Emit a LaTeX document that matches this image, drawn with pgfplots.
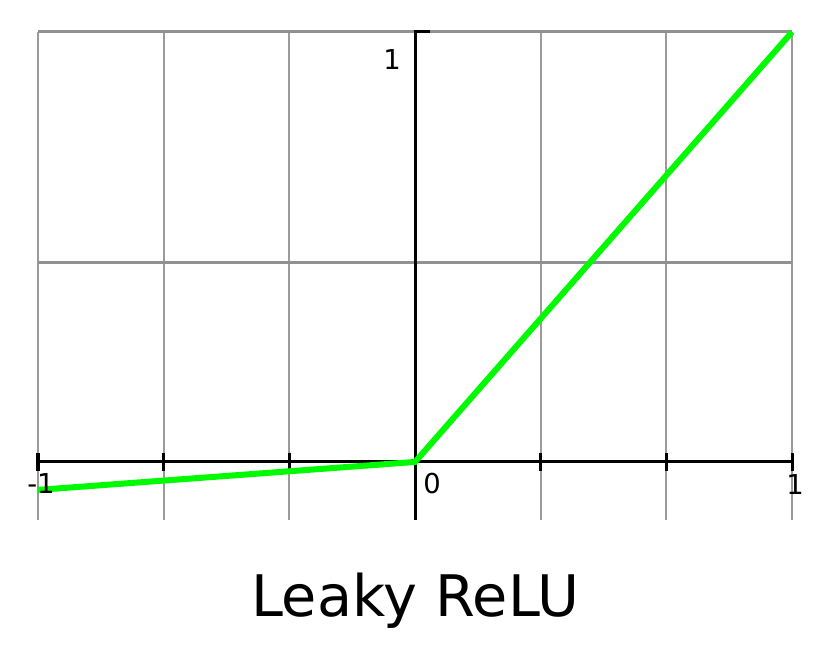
\documentclass[border=0pt]{standalone}
\usepackage{pgfplots}
\pgfplotsset{compat=1.18}
\usepackage{fontspec}
\setmainfont{DejaVu Sans}
\definecolor{lrgreen}{RGB}{0,250,0}
\definecolor{gridv}{RGB}{155,155,155}
\definecolor{gridh}{RGB}{145,145,145}
\begin{document}
\begin{tikzpicture}
\path[use as bounding box] (0,0) rectangle (831bp,658bp);
\begin{axis}[
 at={(38bp,138bp)}, anchor=south west,
 scale only axis, width=754bp, height=488bp,
 xmin=-1, xmax=1, ymin=-0.135, ymax=1,
 axis lines=middle,
 axis line style={draw=none},
 xtick={-1,-0.66667,-0.33333,0,0.33333,0.66667,1},
 xticklabels={},
 ytick=\empty,
 extra y ticks={0.463,1},
 extra y tick labels={},
 extra y tick style={ymajorgrids=true, major tick length=0pt, grid style={gridh, line width=3bp}},
 xmajorgrids,
 grid style={gridv, line width=1.8bp},
 major tick length=18bp,
 tick align=center,
 major tick style={black, line width=3bp},
 clip=false,
 hide obscured x ticks=false,
]
\draw[black, line width=3bp] (axis cs:-1,0) -- (axis cs:1,0);
\draw[black, line width=3bp] (axis cs:0,-0.135) -- (axis cs:0,1);
\draw[black, line width=3bp] ([xshift=-1.5bp]axis cs:0,1) -- ([xshift=15bp]axis cs:0,1);
\addplot[lrgreen, line width=6bp, mark=none] coordinates {(-1,-0.065) (0,0) (1,1)};
\node[font=\fontsize{27.5}{32}\selectfont] at (axis cs:-0.061,0.937) {1};
\node[font=\fontsize{27.5}{32}\selectfont] at (axis cs:0.045,-0.051) {0};
\node[font=\fontsize{27.5}{32}\selectfont] at (axis cs:-0.992,-0.051) {-1};
\node[font=\fontsize{27.5}{32}\selectfont] at (axis cs:1.008,-0.053) {1};
\node[font=\fontsize{57.5}{66}\selectfont, anchor=base] at (axis cs:0,-0.3605) {Leaky ReLU};
\end{axis}
\end{tikzpicture}
\end{document}
